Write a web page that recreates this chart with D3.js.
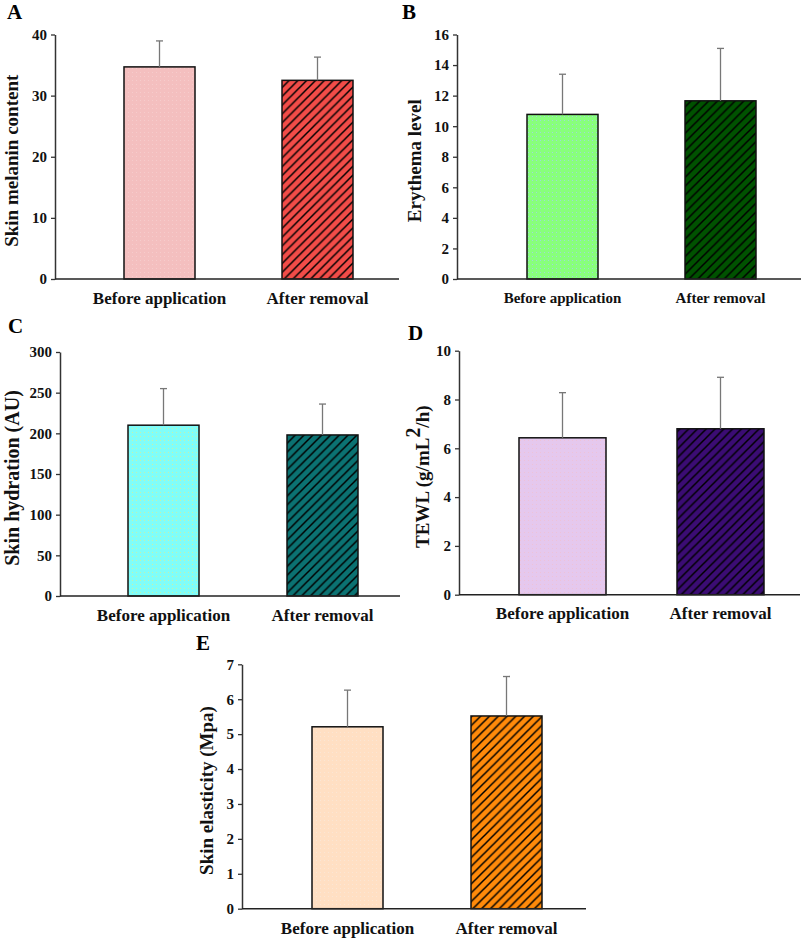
<!DOCTYPE html>
<html><head><meta charset="utf-8">
<script src="https://cdn.jsdelivr.net/npm/d3@7"></script>
<style>
html,body{margin:0;padding:0;background:#fff;}
svg{display:block;font-family:"Liberation Serif","Times New Roman",serif;font-weight:bold;}
</style></head>
<body>
<svg id="chart" width="803" height="940"></svg>
<script>
// ---- data ----
const categories = ["Before application", "After removal"];

const melaninMean = [34.7, 32.5];
const melaninSD   = [4.25, 3.8];
const melaninTicks = [0, 10, 20, 30, 40];

const erythemaMean = [10.77, 11.66];
const erythemaSD   = [2.63, 3.43];
const erythemaTicks = [0, 2, 4, 6, 8, 10, 12, 14, 16];

const hydrationMean = [210, 198];
const hydrationSD   = [45, 38];
const hydrationTicks = [0, 50, 100, 150, 200, 250, 300];

const tewlMean = [6.43, 6.80];
const tewlSD   = [1.85, 2.11];
const tewlTicks = [0, 2, 4, 6, 8, 10];

const elasticityMean = [5.21, 5.52];
const elasticitySD   = [1.05, 1.13];
const elasticityTicks = [0, 1, 2, 3, 4, 5, 6, 7];

// ---- layout / style ----
const svg = d3.select("#chart");
const defs = svg.append("defs");

function hatch(id, bg) {
  const w = 8.8;
  const p = defs.append("pattern").attr("id", id)
    .attr("patternUnits", "userSpaceOnUse").attr("width", w).attr("height", w);
  p.append("rect").attr("width", w).attr("height", w).attr("fill", bg);
  p.append("path")
    .attr("d", `M0,${w} L${w},0 M${-w/2},${w/2} L${w/2},${-w/2} M${w/2},${1.5*w} L${1.5*w},${w/2}`)
    .attr("stroke", "#000").attr("stroke-width", 1.5);
}
function stipple(id, bg, dot) {
  const w = 4;
  const p = defs.append("pattern").attr("id", id)
    .attr("patternUnits", "userSpaceOnUse").attr("width", w).attr("height", w);
  p.append("rect").attr("width", w).attr("height", w).attr("fill", bg);
  p.append("rect").attr("x", 0).attr("y", 0).attr("width", 1).attr("height", 1).attr("fill", dot);
}
hatch("hA", "#f24c48");
hatch("hB", "#005200");
hatch("hC", "#0b7272");
hatch("hD", "#3b0c74");
hatch("hE", "#ff8a0a");
stipple("sA", "#f4bfbf", "#f6cccc");
stipple("sB", "#88ff7c", "#9fd8d8");
stipple("sC", "#80fdf8", "#c8f2a8");
stipple("sD", "#e5c8ee", "#eec2d8");
stipple("sE", "#ffdfc3", "#fbe6d4");

const panels = [
  {letter:"A", lx:7, ly:19, axX:55, axEnd:399, y0:279, yTop:34.5, max:40, ticks:melaninTicks,
   mean:melaninMean, sd:melaninSD, bars:[124,353], bw:71, fill:["url(#sA)","url(#hA)"],
   title:"Skin melanin content", tx:18, tSize:19, labY:304, labSize:17},
  {letter:"B", lx:402, ly:19, axX:457, axEnd:801, y0:279, yTop:34.5, max:16, ticks:erythemaTicks,
   mean:erythemaMean, sd:erythemaSD, bars:[527,756], bw:71, fill:["url(#sB)","url(#hB)"],
   title:"Erythema level", tx:421, tSize:19, labY:303, labSize:15},
  {letter:"C", lx:8, ly:333, axX:60, axEnd:400, y0:596, yTop:352, max:300, ticks:hydrationTicks,
   mean:hydrationMean, sd:hydrationSD, bars:[128,358], bw:71, fill:["url(#sC)","url(#hC)"],
   title:"Skin hydration (AU)", tx:19, tSize:20, labY:621, labSize:17},
  {letter:"D", lx:408, ly:340, axX:459, axEnd:800, y0:594.7, yTop:350.7, max:10, ticks:tewlTicks,
   mean:tewlMean, sd:tewlSD, bars:[519,764], bw:87, fill:["url(#sD)","url(#hD)"],
   title:"TEWL", tx:429, tSize:19, labY:619, labSize:17},
  {letter:"E", lx:196, ly:650, axX:242, axEnd:586, y0:908.7, yTop:664.3, max:7, ticks:elasticityTicks,
   mean:elasticityMean, sd:elasticitySD, bars:[312,542], bw:71, fill:["url(#sE)","url(#hE)"],
   title:"Skin elasticity (Mpa)", tx:213, tSize:19, labY:934, labSize:17}
];

panels.forEach(p => {
  const g = svg.append("g");
  const y = d3.scaleLinear().domain([0, p.max]).range([p.y0, p.yTop]);
  const span = p.bars[1] - p.bars[0];
  const step = span - p.bw;
  const x = d3.scaleBand().domain(categories).range(p.bars)
    .paddingInner(1 - p.bw / step).paddingOuter(0);

  // panel letter
  g.append("text").attr("x", p.lx).attr("y", p.ly)
    .attr("font-size", 21).attr("fill", "#000").text(p.letter);

  // y axis
  const ya = g.append("g").attr("transform", `translate(${p.axX},0)`)
    .call(d3.axisLeft(y).tickValues(p.ticks).tickFormat(d3.format("d")).tickSize(4).tickSizeOuter(0).tickPadding(4));
  ya.select(".domain").attr("stroke", "#333").attr("stroke-width", 1.5);
  ya.selectAll(".tick line").attr("stroke", "#333").attr("stroke-width", 1.3);
  ya.selectAll(".tick text").attr("font-size", 15).attr("font-family", "Liberation Serif, serif")
    .attr("font-weight", "bold").attr("fill", "#111");

  // bars
  g.selectAll("rect.bar").data(categories).join("rect").attr("class", "bar")
    .attr("x", d => x(d)).attr("width", x.bandwidth())
    .attr("y", (d, i) => y(p.mean[i])).attr("height", (d, i) => y(0) - y(p.mean[i]))
    .attr("fill", (d, i) => p.fill[i]).attr("stroke", "#111").attr("stroke-width", 1.5);

  // error bars (upper only)
  categories.forEach((c, i) => {
    const cx = x(c) + x.bandwidth() / 2;
    g.append("line").attr("x1", cx).attr("x2", cx)
      .attr("y1", y(p.mean[i])).attr("y2", y(p.mean[i] + p.sd[i]))
      .attr("stroke", "#777").attr("stroke-width", 1.3);
    g.append("line").attr("x1", cx - 3.5).attr("x2", cx + 3.5)
      .attr("y1", y(p.mean[i] + p.sd[i])).attr("y2", y(p.mean[i] + p.sd[i]))
      .attr("stroke", "#777").attr("stroke-width", 1.3);
  });

  // x axis baseline
  g.append("line").attr("x1", p.axX).attr("x2", p.axEnd)
    .attr("y1", p.y0).attr("y2", p.y0).attr("stroke", "#222").attr("stroke-width", 1.5);

  // category labels
  const xa = g.append("g").attr("transform", `translate(0,${p.labY - 13})`)
    .call(d3.axisBottom(x).tickSize(0).tickPadding(0));
  xa.select(".domain").remove();
  xa.selectAll(".tick text").attr("font-size", p.labSize).attr("font-family", "Liberation Serif, serif")
    .attr("font-weight", "bold").attr("fill", "#111").attr("dy", "0").attr("y", 13);

  // y title
  const ym = (p.y0 + p.yTop) / 2 + 4;
  const t = g.append("text").attr("transform", `translate(${p.tx},${ym}) rotate(-90)`)
    .attr("text-anchor", "middle").attr("font-size", p.tSize).attr("fill", "#111");
  if (p.letter === "D") {
    t.append("tspan").text("TEWL (g/mL");
    t.append("tspan").attr("dy", "-0.45em").attr("font-size", p.tSize * 1.05).text("2");
    t.append("tspan").attr("dy", "0.45em").text("/h)");
  } else {
    t.text(p.title);
  }
});
</script>
</body></html>
